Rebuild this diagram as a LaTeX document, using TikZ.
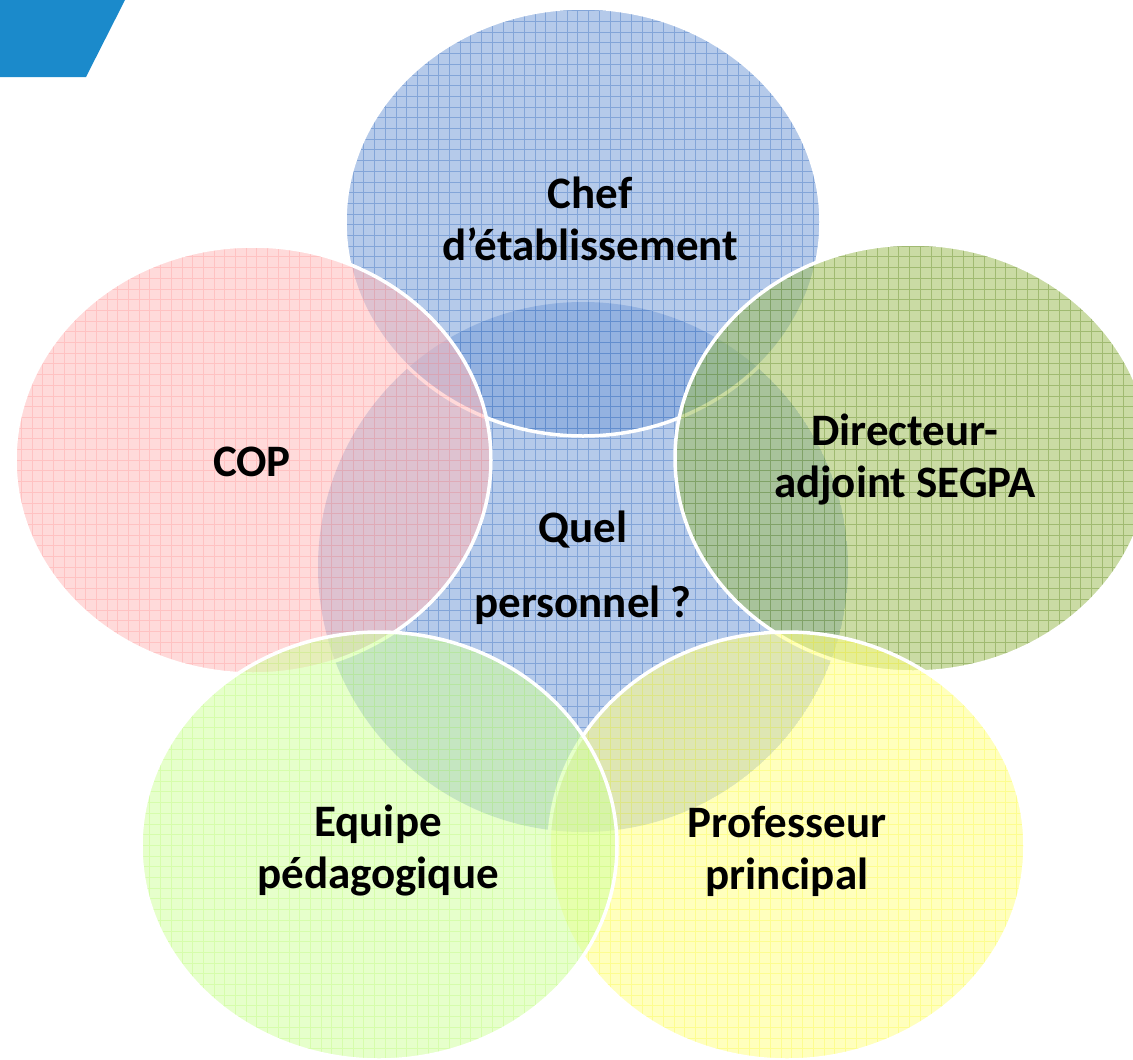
\documentclass[tikz,border=0pt]{standalone}
\usepackage{fontspec}
\setmainfont{Carlito}
\usetikzlibrary{calc}

\definecolor{bluefill}{RGB}{120,158,216}
\definecolor{blueline}{RGB}{70,120,195}
\definecolor{pinkfill}{RGB}{255,188,188}
\definecolor{pinkline}{RGB}{255,165,165}
\definecolor{olivefill}{RGB}{158,190,90}
\definecolor{oliveline}{RGB}{110,145,50}
\definecolor{yellowfill}{RGB}{255,255,135}
\definecolor{yellowline}{RGB}{250,250,90}
\definecolor{limefill}{RGB}{210,255,160}
\definecolor{limeline}{RGB}{195,250,135}
\definecolor{cornerblue}{RGB}{27,138,203}

\begin{document}
\begin{tikzpicture}[x=1pt,y=-1pt]
\tikzset{disc/.style={fill opacity=.55},
  gridlines/.style={step=10.7pt,line width=.7pt,draw opacity=.45},
  rim/.style={draw=white,line width=3.5pt},
  label/.style={font=\bfseries\fontsize{45}{52}\selectfont,align=center,text=black}};

\pgfmathsetmacro{\rx}{238};
\pgfmathsetmacro{\ry}{214};
\pgfmathsetmacro{\rmid}{265};

\useasboundingbox (0,0) rectangle (1133,1060);
\clip (0,0) rectangle (1133,1060);

\coordinate (M) at (583,567);
\coordinate (T) at (583,222);
\coordinate (R) at (913,458);
\coordinate (L) at (253,460);
\coordinate (BR) at (787,846);
\coordinate (BL) at (379,846);

\fill [cornerblue] (0,0) -- (125,0) -- (86,77) -- (0,77) -- cycle;

\begin{scope}
\clip (M) circle (\rmid pt);
\fill [disc, bluefill] (M) circle (\rmid pt);
\draw [gridlines, blueline] (0,1060) grid (1133,0);
\end{scope}

\begin{scope}
\clip (T) ellipse [x radius=\rx pt, y radius=\ry pt];
\fill [disc, bluefill] (T) ellipse [x radius=\rx pt, y radius=\ry pt];
\draw [gridlines, blueline] (0,1060) grid (1133,0);
\end{scope}
\draw [rim] (T) ellipse [x radius=\rx pt, y radius=\ry pt];

\begin{scope}
\clip (R) ellipse [x radius=\rx pt, y radius=\ry pt];
\fill [disc, olivefill] (R) ellipse [x radius=\rx pt, y radius=\ry pt];
\draw [gridlines, oliveline] (0,1060) grid (1133,0);
\end{scope}
\draw [rim] (R) ellipse [x radius=\rx pt, y radius=\ry pt];

\begin{scope}
\clip (L) ellipse [x radius=\rx pt, y radius=\ry pt];
\fill [disc, pinkfill] (L) ellipse [x radius=\rx pt, y radius=\ry pt];
\draw [gridlines, pinkline] (0,1060) grid (1133,0);
\end{scope}
\draw [rim] (L) ellipse [x radius=\rx pt, y radius=\ry pt];

\begin{scope}
\clip (BR) ellipse [x radius=\rx pt, y radius=\ry pt];
\fill [disc, yellowfill] (BR) ellipse [x radius=\rx pt, y radius=\ry pt];
\draw [gridlines, yellowline] (0,1060) grid (1133,0);
\end{scope}
\draw [rim] (BR) ellipse [x radius=\rx pt, y radius=\ry pt];

\begin{scope}
\clip (BL) ellipse [x radius=\rx pt, y radius=\ry pt];
\fill [disc, limefill] (BL) ellipse [x radius=\rx pt, y radius=\ry pt];
\draw [gridlines, limeline] (0,1060) grid (1133,0);
\end{scope}
\draw [rim] (BL) ellipse [x radius=\rx pt, y radius=\ry pt];

\node [label] (chef) at (590,219) {Chef\\d’établissement};
\node [label] (cop) at (252,462) {COP};
\node [label] (dir) at (905,460) {Directeur-\\adjoint SEGPA};
\node [label] (quel) at (583,568) {Quel\\[23pt]personnel ?};
\node [label] (equipe) at (378,851) {Equipe\\pédagogique};
\node [label] (prof) at (787,851) {Professeur\\principal};
\end{tikzpicture}
\end{document}
